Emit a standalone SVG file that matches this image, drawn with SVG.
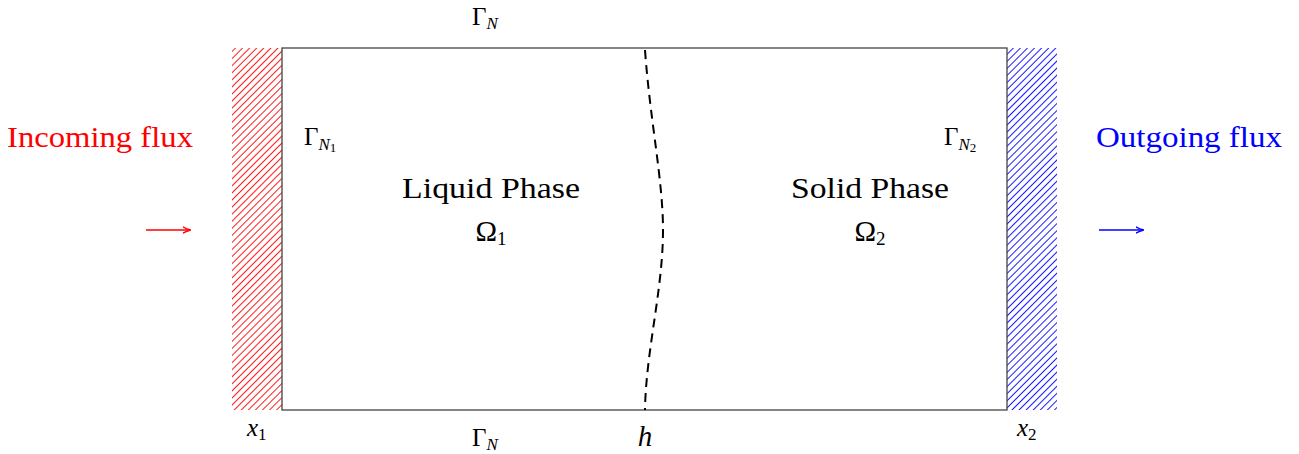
<svg xmlns="http://www.w3.org/2000/svg" width="1299" height="454" viewBox="0 0 1299 454">
<style>
text{font-family:"Liberation Serif","DejaVu Serif",serif;fill:#000}
.big{font-size:29px}
.lbl{font-size:25px}
.sub{font-size:17px}
.it{font-style:italic}
</style>
<defs>
<pattern id="hr" width="5" height="5" patternUnits="userSpaceOnUse" patternTransform="rotate(45)">
<line x1="0" y1="0" x2="0" y2="5" stroke="#ff0000" stroke-width="1.8"/>
</pattern>
<pattern id="hb" width="5" height="5" patternUnits="userSpaceOnUse" patternTransform="rotate(45)">
<line x1="0" y1="0" x2="0" y2="5" stroke="#0000ff" stroke-width="1.8"/>
</pattern>
<marker id="ar" viewBox="0 0 10 10" refX="9" refY="5" markerWidth="8" markerHeight="8" orient="auto" markerUnits="userSpaceOnUse">
<path d="M0,1 Q5,4 10,5 Q5,6 0,9" fill="none" stroke="#ff0000" stroke-width="1.6"/>
</marker>
<marker id="ab" viewBox="0 0 10 10" refX="9" refY="5" markerWidth="8" markerHeight="8" orient="auto" markerUnits="userSpaceOnUse">
<path d="M0,1 Q5,4 10,5 Q5,6 0,9" fill="none" stroke="#0000ff" stroke-width="1.6"/>
</marker>
</defs>
<rect width="1299" height="454" fill="#fff"/>
<g id="left-wall"><rect x="232" y="48" width="50" height="362" fill="url(#hr)"/></g>
<g id="right-wall"><rect x="1007" y="48" width="50" height="362" fill="url(#hb)"/></g>
<g id="domain"><rect x="282" y="48" width="725" height="362" fill="none" stroke="#444" stroke-width="1.3"/></g>
<g id="interface"><path d="M645,50 C650,120 663,180 663,230 C663,290 646,350 645,410" fill="none" stroke="#000" stroke-width="2" stroke-dasharray="9,6"/></g>
<g id="connectors">
<line x1="146" y1="230" x2="190" y2="230" stroke="#ff0000" stroke-width="1.6" marker-end="url(#ar)"/>
<line x1="1099" y1="230" x2="1143" y2="230" stroke="#0000ff" stroke-width="1.6" marker-end="url(#ab)"/>
</g>
<g id="incoming"><text class="big" x="100" y="147" text-anchor="middle" style="fill:#ff0000" textLength="186" lengthAdjust="spacingAndGlyphs">Incoming flux</text></g>
<g id="outgoing"><text class="big" x="1189" y="147" text-anchor="middle" style="fill:#0000ff" textLength="186" lengthAdjust="spacingAndGlyphs">Outgoing flux</text></g>
<g id="liquid"><text class="big" x="491" y="198" text-anchor="middle" textLength="178" lengthAdjust="spacingAndGlyphs">Liquid Phase</text><text class="big" x="491" y="241" text-anchor="middle">Ω<tspan font-size="19" dy="4">1</tspan></text></g>
<g id="solid"><text class="big" x="870" y="198" text-anchor="middle" textLength="158" lengthAdjust="spacingAndGlyphs">Solid Phase</text><text class="big" x="870" y="241" text-anchor="middle">Ω<tspan font-size="19" dy="4">2</tspan></text></g>
<g id="gamma-top"><text class="lbl" x="472" y="25">Γ<tspan class="sub it" dy="4">N</tspan></text></g>
<g id="gamma-bottom"><text class="lbl" x="472" y="446">Γ<tspan class="sub it" dy="4">N</tspan></text></g>
<g id="gamma-n1"><text class="lbl" x="304" y="145">Γ<tspan class="sub it" dy="5">N</tspan><tspan font-size="13" dy="2">1</tspan></text></g>
<g id="gamma-n2"><text class="lbl" x="944" y="145">Γ<tspan class="sub it" dy="5">N</tspan><tspan font-size="13" dy="2">2</tspan></text></g>
<g id="x1"><text class="lbl it" x="247" y="436">x<tspan font-style="normal" font-size="17" dy="4">1</tspan></text></g>
<g id="x2"><text class="lbl it" x="1017" y="436">x<tspan font-style="normal" font-size="17" dy="4">2</tspan></text></g>
<g id="h"><text class="big it" x="645" y="446" text-anchor="middle">h</text></g>
</svg>
